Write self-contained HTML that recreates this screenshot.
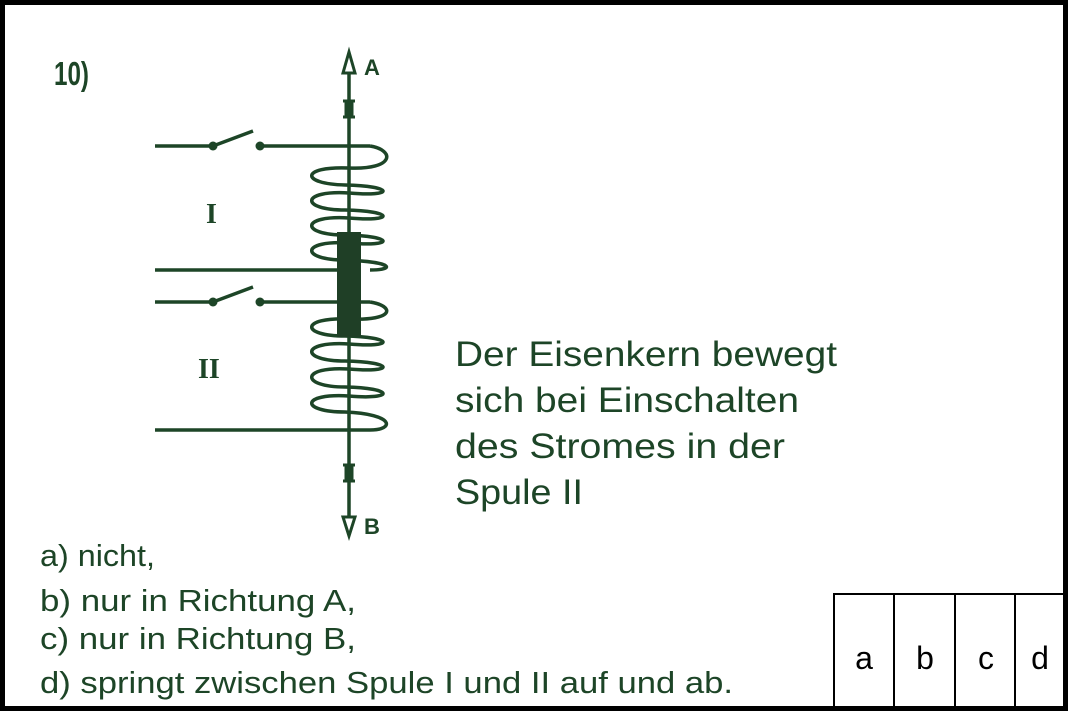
<!DOCTYPE html>
<html><head><meta charset="utf-8"><style>
html,body{margin:0;padding:0;background:#fff}
svg{display:block}
text{font-family:"Liberation Sans",sans-serif;fill:#1d4527}
</style></head><body>
<svg width="1069" height="713" viewBox="0 0 1069 713">
<rect x="2.5" y="2.5" width="1063" height="706" fill="#fff" stroke="#000" stroke-width="5"/>
<text x="54" y="85" font-size="33" font-weight="bold" textLength="35" lengthAdjust="spacingAndGlyphs">10)</text>
<g stroke="#1d4527" stroke-width="3.5" fill="none">
<line x1="349" y1="72" x2="349" y2="516"/>
<polygon points="343,73 355,73 349,52" stroke-width="3"/>
<polygon points="343,517 355,517 349,536" stroke-width="3"/>
<path d="M343,101h12M343,117h12M346,101v16M352,101v16" stroke-width="3"/>
<path d="M343,465h12M343,481h12M346,465v16M352,465v16" stroke-width="3"/>
<line x1="155" y1="146" x2="213" y2="146"/>
<line x1="213" y1="146" x2="253" y2="131"/>
<line x1="260" y1="146" x2="370" y2="146"/>
<path d="M370,146 C395,150 395,170 349,168 C300,166 300,184 345,185 C395,186 395,197 349,193 C300,190 300,210 345,210 C395,211 395,222 349,218 C300,215 300,235 345,235 C395,236 395,247 349,243 C300,240 300,260 345,260 C395,262 395,270 370,270"/>
<line x1="155" y1="270" x2="340" y2="270"/>
<line x1="155" y1="302" x2="213" y2="302"/>
<line x1="213" y1="302" x2="253" y2="287"/>
<line x1="260" y1="302" x2="370" y2="302"/>
<path d="M370,302 C395,306 395,321 349,319 C300,317 300,336 345,336 C395,337 395,348 349,344 C300,341 300,361 345,361 C395,362 395,373 349,369 C300,366 300,387 345,387 C395,388 395,400 349,396 C300,393 300,412 345,412 C395,414 395,430 370,430"/>
<line x1="155" y1="430" x2="370" y2="430"/>
</g>
<g fill="#1d4527">
<circle cx="213" cy="146" r="4.5"/><circle cx="260" cy="146" r="4.5"/>
<circle cx="213" cy="302" r="4.5"/><circle cx="260" cy="302" r="4.5"/>
</g>
<rect x="337" y="232" width="24" height="105" fill="#1f3f26"/>
<text x="364" y="75" font-size="22" font-weight="bold">A</text>
<text x="364" y="534" font-size="22" font-weight="bold">B</text>
<text x="206" y="223" font-size="28" font-weight="bold" style="font-family:'Liberation Serif',serif">I</text>
<text x="198" y="378" font-size="28" font-weight="bold" style="font-family:'Liberation Serif',serif">II</text>
<g font-size="35">
<text x="455" y="366" textLength="382" lengthAdjust="spacingAndGlyphs">Der Eisenkern bewegt</text>
<text x="455" y="412" textLength="344" lengthAdjust="spacingAndGlyphs">sich bei Einschalten</text>
<text x="455" y="458" textLength="330" lengthAdjust="spacingAndGlyphs">des Stromes in der</text>
<text x="455" y="504" textLength="128" lengthAdjust="spacingAndGlyphs">Spule II</text>
</g>
<g font-size="31">
<text x="40" y="566" textLength="115" lengthAdjust="spacingAndGlyphs">a) nicht,</text>
<text x="40" y="611" textLength="316" lengthAdjust="spacingAndGlyphs">b) nur in Richtung A,</text>
<text x="40" y="649" textLength="316" lengthAdjust="spacingAndGlyphs">c) nur in Richtung B,</text>
<text x="40" y="693" textLength="693" lengthAdjust="spacingAndGlyphs">d) springt zwischen Spule I und II auf und ab.</text>
</g>
<g>
<rect x="834" y="594" width="232" height="115" fill="none" stroke="#000" stroke-width="2"/>
<line x1="894" y1="594" x2="894" y2="709" stroke="#000" stroke-width="2"/>
<line x1="955" y1="594" x2="955" y2="709" stroke="#000" stroke-width="2"/>
<line x1="1015" y1="594" x2="1015" y2="709" stroke="#000" stroke-width="2"/>
<g font-size="32" text-anchor="middle">
<text x="864" y="669" style="fill:#000">a</text>
<text x="925" y="669" style="fill:#000">b</text>
<text x="986" y="669" style="fill:#000">c</text>
<text x="1040" y="669" style="fill:#000">d</text>
</g>
</g>
</svg>
</body></html>
